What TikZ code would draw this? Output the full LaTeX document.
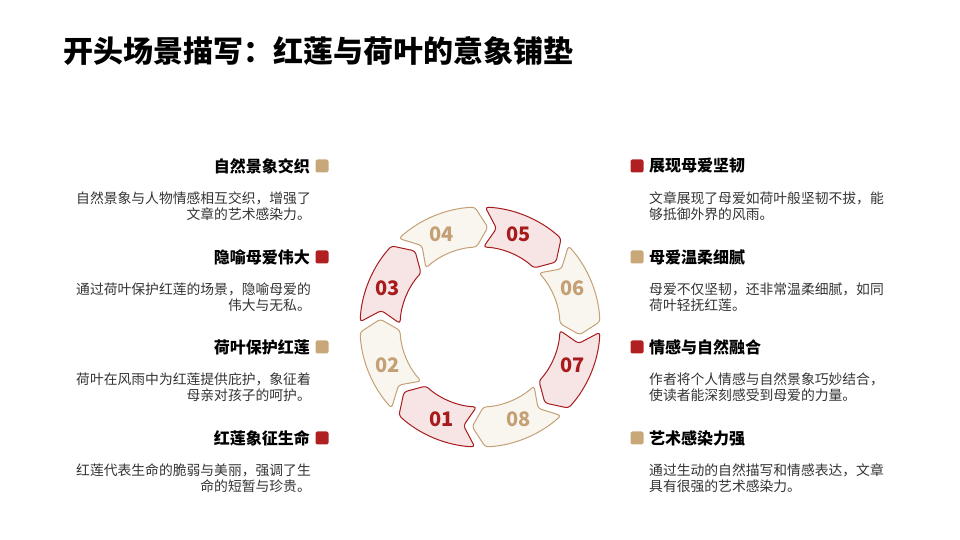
\documentclass[tikz,border=0pt]{standalone}
\usepackage{fontspec}
\usetikzlibrary{calc}
\setmainfont{Noto Sans CJK SC}
\definecolor{rd}{HTML}{A61C1C}
\definecolor{rdf}{HTML}{F7E4E4}
\definecolor{tn}{HTML}{C4A075}
\definecolor{tnf}{HTML}{F9F5EF}
\definecolor{sqr}{HTML}{B02020}
\definecolor{sqt}{HTML}{C8A878}
\definecolor{txt}{HTML}{333333}
\begin{document}
\begin{tikzpicture}[x=1pt,y=1pt,
  head/.style={font=\fontsize{16}{18}\selectfont\bfseries, text=black, inner sep=0},
  desc/.style={font=\fontsize{13.8}{15.5}\selectfont, text=txt, inner sep=0},
  sq/.style={minimum size=13pt, inner sep=0, rounded corners=2pt},
  num/.style={font=\fontsize{20}{20}\selectfont\bfseries}]
\useasboundingbox (0,0) rectangle (960,540);
\node[anchor=west, font=\fontsize{30}{32}\selectfont\bfseries] (title) at (60,489) {开头场景描写：红莲与荷叶的意象铺垫};
% ring
\coordinate (c) at (480,213);
\def\R{120}\def\r{80}\def\rm{100}\def\h{20}\def\d{7}
\foreach \a/\n/\lc/\fc in {-112.5/01/rd/rdf, 202.5/02/tn/tnf, 157.5/03/rd/rdf, 112.5/04/tn/tnf, 67.5/05/rd/rdf, 22.5/06/tn/tnf, -22.5/07/rd/rdf, -67.5/08/tn/tnf}{
  \draw[\lc, fill=\fc, line width=1pt, rounded corners=3pt, line join=round]
    ($(c)+(\a-\h:\R)$) arc[start angle=\a-\h, end angle=\a+\h, radius=\R]
    -- ($(c)+(\a+\h-\d:\rm)$) -- ($(c)+(\a+\h:\r)$)
    arc[start angle=\a+\h, end angle=\a-\h, radius=\r]
    -- ($(c)+(\a-\h-\d:\rm)$) -- cycle;
  \node[num, text=\lc] (n\n) at ($(c)+(\a:\rm)$) {\n};
}
% left side
\foreach \y/\t/\col/\da/\db [count=\i] in {
 374/自然景象交织/sqt/自然景象与人物情感相互交织，增强了/文章的艺术感染力。,
 283/隐喻母爱伟大/sqr/通过荷叶保护红莲的场景，隐喻母爱的/伟大与无私。,
 193/荷叶保护红莲/sqt/荷叶在风雨中为红莲提供庇护，象征着/母亲对孩子的呵护。,
 102/红莲象征生命/sqr/红莲代表生命的脆弱与美丽，强调了生/命的短暂与珍贵。}{
  \node[sq, fill=\col] (ls\i) at (322,\y) {};
  \node[head, anchor=east] (lh\i) at (310,\y) {\t};
  \node[desc, anchor=north east, align=right] (ld\i) at (311,\y-26) {\da\\\db};
}
% right side
\foreach \y/\t/\col/\da/\db [count=\i] in {
 374/展现母爱坚韧/sqr/文章展现了母爱如荷叶般坚韧不拔，能/够抵御外界的风雨。,
 283/母爱温柔细腻/sqt/母爱不仅坚韧，还非常温柔细腻，如同/荷叶轻抚红莲。,
 193/情感与自然融合/sqr/作者将个人情感与自然景象巧妙结合，/使读者能深刻感受到母爱的力量。,
 102/艺术感染力强/sqt/通过生动的自然描写和情感表达，文章/具有很强的艺术感染力。}{
  \node[sq, fill=\col] (rs\i) at (637,\y) {};
  \node[head, anchor=west] (rh\i) at (649,\y) {\t};
  \node[desc, anchor=north west, align=left] (rd\i) at (649,\y-26) {\da\\\db};
}
\end{tikzpicture}
\end{document}
